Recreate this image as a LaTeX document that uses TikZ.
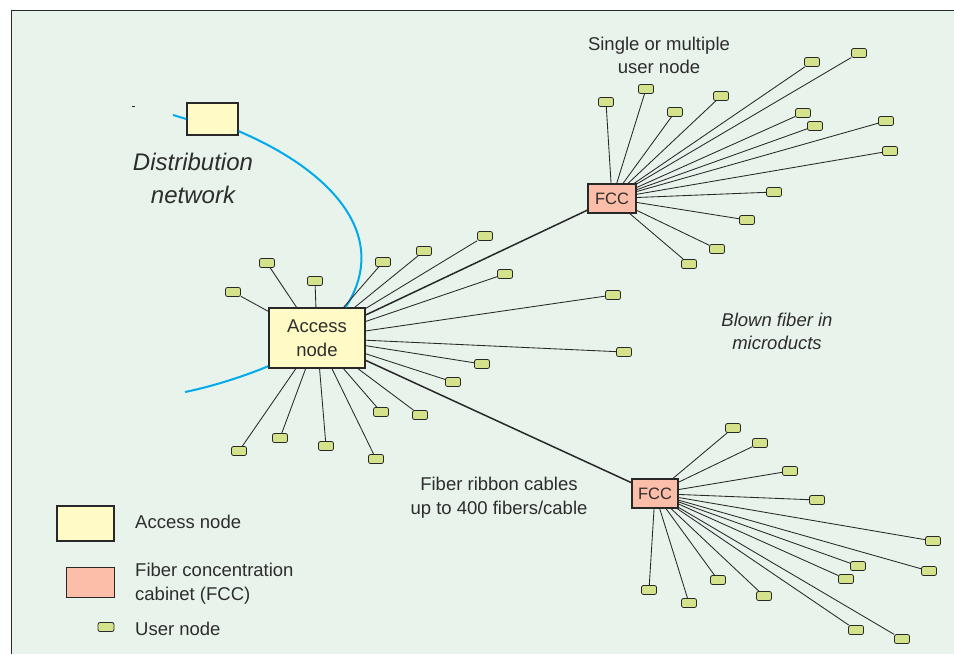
\documentclass[tikz,border=0pt]{standalone}
\usepackage{fontspec}
\setmainfont{Liberation Sans}
\definecolor{bg}{RGB}{232,243,235}
\definecolor{accfill}{RGB}{255,250,198}
\definecolor{fccfill}{RGB}{252,190,168}
\definecolor{userfill}{RGB}{212,226,140}
\definecolor{cablecol}{RGB}{0,170,235}
\definecolor{ink}{RGB}{45,45,45}
\definecolor{edgecol}{RGB}{40,40,40}
\begin{document}
\begin{tikzpicture}[x=1pt,y=-1pt,
  lbl/.style={font=\fontsize{18.5}{22}\selectfont, text=ink, inner sep=0pt, anchor=base},
  ilbl/.style={lbl, font=\fontsize{18.5}{22}\selectfont\itshape},
  biglbl/.style={lbl, font=\fontsize{24}{30}\selectfont\itshape},
  accbox/.style={draw=edgecol, line width=1.6pt, fill=accfill, inner sep=0pt,
    font=\fontsize{18.5}{23.5}\selectfont, text=ink, align=center},
  fccbox/.style={draw=edgecol, line width=1.1pt, fill=fccfill, inner sep=0pt,
    font=\fontsize{16.5}{20}\selectfont, text=ink},
  usernode/.style={draw=edgecol, line width=0.8pt, fill=userfill, rounded corners=2pt,
    minimum width=15pt, minimum height=9pt, inner sep=0pt},
  fib/.style={draw=edgecol, line width=0.85pt},
  trunk/.style={draw=edgecol, line width=1.5pt},
  cable/.style={draw=cablecol, line width=2pt}
]
\useasboundingbox (0,0) rectangle (954,654);
\fill[white] (0,0) rectangle (954,654);
\fill[bg] (11,10) rectangle (954,654);
\draw[edgecol, line width=0.9pt] (11,654) -- (11,10) -- (954,10);

% distribution network
\node[accbox, line width=1.4pt, minimum width=51pt, minimum height=32pt] (dist) at (212.5,119) {};
\coordinate (cs) at (173,115);
\coordinate (ce) at (185,392);
\coordinate (m1) at (132,106);
\coordinate (m2) at (135,106);
\draw[edgecol, line width=0.6pt] (m1) -- (m2);
\node[biglbl] (dn1) at (193,170.7) {Distribution};
\node[biglbl] (dn2) at (193,203.3) {network};

% access node
\node[accbox, minimum width=96pt, minimum height=60pt] (an) at (317,338) {Access\\node};

% FCCs
\node[fccbox, minimum width=48pt, minimum height=29pt] (f1) at (612,198.5) {FCC};
\node[fccbox, minimum width=46pt, minimum height=29pt] (f2) at (655,493.5) {FCC};

% cable
\draw[cable] (cs) -- (dist.west);
\draw[cable] (dist.-25) .. controls (330,170) and (392,235) .. (an.47);
\draw[cable] (an.210) .. controls (250,374) and (215,386) .. (ce);

% trunks
\draw[trunk] (an) -- (f1);
\draw[trunk] (an) -- (f2);

% user nodes around access node
\foreach \n/\x/\y in {1/233/292, 2/267/263, 3/315/281, 4/383/262, 5/424/251,
  6/485/236, 7/505/274, 8/613/295, 9/624/352, 10/482/364, 11/453/382,
  12/420/415, 13/381/412, 14/376/459, 15/326/446, 16/280/438, 17/239/451}
{
  \node[usernode] (a\n) at (\x,\y) {};
  \draw[fib] (an) -- (a\n);
}

% user nodes around FCC top
\foreach \n/\x/\y in {1/606/102, 2/646/89, 3/675/112, 4/721/96, 5/812/62,
  6/859/53, 7/803/113, 8/815/126, 9/886/121, 10/890/151, 11/774/192,
  12/747/220, 13/717/249, 14/689/264}
{
  \node[usernode] (b\n) at (\x,\y) {};
  \draw[fib] (f1) -- (b\n);
}

% user nodes around FCC bottom
\foreach \n/\x/\y in {1/733/428, 2/760/443, 3/790/471, 4/817/500, 5/933/541,
  6/858/566, 7/929/571, 8/846/579, 9/718/580, 10/764/596, 11/856/630,
  12/902/639, 13/649/590, 14/689/603}
{
  \node[usernode] (c\n) at (\x,\y) {};
  \draw[fib] (f2) -- (c\n);
}

% labels
\node[lbl] (s1) at (659,50) {Single or multiple};
\node[lbl] (s2) at (659,73.3) {user node};
\node[ilbl] (bf1) at (777,326.7) {Blown fiber in};
\node[ilbl] (bf2) at (777,349.3) {microducts};
\node[lbl] (fr1) at (499,490.7) {Fiber ribbon cables};
\node[lbl] (fr2) at (499,514) {up to 400 fibers/cable};

% legend
\node[accbox, line width=1.4pt, minimum width=57pt, minimum height=35pt] (lga) at (85.5,523.5) {};
\node[fccbox, line width=1pt, minimum width=48pt, minimum height=30pt] (lgf) at (90,582) {};
\node[usernode, minimum width=16pt] (lgu) at (106,627) {};
\node[lbl, anchor=base west] (lta) at (135,528.3) {Access node};
\node[lbl, anchor=base west] (ltf1) at (135,576.7) {Fiber concentration};
\node[lbl, anchor=base west] (ltf2) at (135,600.7) {cabinet (FCC)};
\node[lbl, anchor=base west] (ltu) at (135,635.7) {User node};
\end{tikzpicture}
\end{document}
